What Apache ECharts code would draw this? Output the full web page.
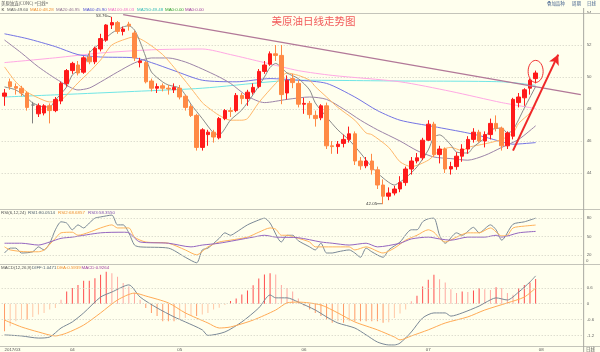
<!DOCTYPE html>
<html>
<head>
<meta charset="utf-8">
<title>美原油日线走势图</title>
<script src="https://cdn.jsdelivr.net/npm/echarts@6.0.0/dist/echarts.min.js"></script>
<style>
  html, body { margin: 0; padding: 0; background: #FFFFEE; }
  #chart { width: 600px; height: 352px; }
</style>
</head>
<body>
<div id="chart"></div>
<script>
// 美原油日线走势图 - K线 + 均线 + RSI + MACD

// K线数据 (每根一个交易日)
const openPrices = [48.8, 49.7, 49.4, 49.3, 49.0, 48.25, 47.7, 47.75, 48.2, 47.9,
  48.5, 49.6, 50.4, 50.75, 50.3, 51.25, 50.95, 51.75, 52.3, 53.25,
  53.4, 52.85, 53.3, 52.75, 50.9, 50.9, 49.75, 49.3, 49.45, 49.3,
  49.2, 49.3, 48.8, 48.15, 47.6, 45.6, 46.4, 46.55, 46.2, 47.4,
  47.9, 47.9, 48.85, 48.65, 49.05, 49.4, 50.35, 50.8, 51.45, 51.35,
  49.0, 49.9, 49.6, 48.3, 48.35, 47.6, 47.45, 48.2, 45.7, 45.65,
  45.85, 46.1, 46.45, 44.75, 44.45, 44.75, 44.2, 43.25, 42.55, 42.75,
  43.0, 43.4, 44.25, 44.75, 44.95, 46.05, 47.05, 45.15, 45.5, 44.25,
  44.4, 45.05, 45.5, 46.1, 46.55, 46.0, 46.4, 47.1, 46.8, 45.7,
  46.3, 48.4, 48.7, 49.3, 49.9];
const closePrices = [49.0, 49.4, 49.3, 49.0, 48.1, 48.25, 48.2, 48.2, 47.9, 48.6,
  49.6, 50.4, 50.85, 50.25, 51.2, 50.95, 51.8, 52.4, 53.25, 53.4,
  52.85, 53.0, 53.2, 51.2, 51.0, 49.7, 49.3, 49.4, 49.3, 49.25,
  49.35, 48.75, 48.1, 47.6, 45.6, 46.7, 46.55, 46.25, 47.4, 47.9,
  47.85, 48.85, 48.65, 49.05, 49.35, 50.35, 50.75, 51.45, 51.35, 48.9,
  49.8, 49.65, 48.3, 48.35, 47.65, 47.4, 48.2, 45.7, 45.65, 45.8,
  46.1, 46.45, 44.75, 44.45, 44.75, 44.2, 43.25, 42.55, 42.75, 43.0,
  43.4, 44.25, 44.75, 44.95, 46.05, 47.05, 45.15, 45.5, 44.25, 44.4,
  45.05, 45.5, 46.1, 46.55, 46.0, 46.4, 47.1, 46.8, 45.7, 46.5,
  48.6, 48.75, 49.2, 49.8, 50.25];
const lowPrices = [48.2, 49.2, 48.9, 48.8, 47.9, 47.1, 47.5, 47.6, 47.1, 47.8,
  48.3, 49.4, 50.2, 50.1, 50.2, 50.8, 50.8, 51.6, 52.2, 53.0,
  52.7, 52.6, 52.9, 51.0, 50.6, 49.6, 49.1, 49.0, 49.1, 48.9,
  49.0, 48.6, 47.9, 47.5, 45.4, 45.4, 45.7, 45.9, 46.1, 47.3,
  47.5, 47.8, 48.3, 48.2, 48.9, 49.3, 50.2, 50.7, 51.0, 48.3,
  48.6, 49.3, 48.1, 47.7, 47.4, 46.9, 47.3, 45.5, 45.2, 45.2,
  45.6, 45.9, 44.5, 44.2, 44.3, 43.9, 43.0, 42.05, 42.3, 42.6,
  42.8, 43.2, 43.9, 44.6, 44.8, 46.0, 45.0, 44.6, 44.0, 43.9,
  44.2, 44.7, 45.2, 45.9, 45.9, 45.6, 46.1, 46.6, 45.4, 45.5,
  46.1, 48.1, 48.2, 48.9, 49.6];
const highPrices = [49.25, 49.9, 49.6, 49.45, 49.1, 48.45, 48.35, 48.3, 48.35, 48.75,
  49.7, 50.5, 50.95, 51.0, 51.3, 51.65, 51.9, 52.7, 53.3, 53.76,
  53.5, 53.15, 53.45, 52.9, 51.2, 51.0, 49.9, 49.6, 49.6, 49.5,
  49.6, 49.5, 48.9, 48.3, 47.7, 46.8, 46.7, 46.7, 47.5, 48.0,
  48.1, 49.0, 49.0, 49.2, 49.6, 50.5, 51.0, 51.6, 52.0, 52.0,
  50.1, 50.2, 49.8, 48.7, 48.5, 47.9, 48.3, 48.4, 46.0, 46.0,
  46.4, 46.9, 46.6, 45.0, 45.0, 45.2, 44.4, 43.6, 43.1, 43.2,
  43.8, 44.4, 45.0, 45.25, 46.2, 47.3, 47.2, 45.7, 45.6, 44.7,
  45.3, 45.8, 46.3, 46.8, 46.7, 46.6, 47.4, 47.6, 46.9, 46.6,
  48.7, 49.0, 49.3, 49.9, 50.4];

// 均线 (读图取点: [K线序号, 数值])
const ma5Points = [[0, 49.38], [2, 49.19], [4, 48.69], [5, 48.38], [7, 48.13], [8, 48.13], [9, 48.56], [11, 49.38],
  [12, 50.13], [14, 50.63], [15, 51.5], [17, 52.13], [19, 52.75], [21, 53.13], [22, 53.2], [23, 52.94],
  [24, 52.19], [25, 51.25], [26, 50.31], [28, 49.69], [29, 49.5], [31, 49.31], [32, 48.88], [33, 48.3],
  [35, 47.4], [37, 46.5], [38, 46.4], [40, 47.31], [42, 47.94], [44, 48.9], [46, 50.0], [47, 50.6],
  [48, 50.85], [49, 50.6], [50, 50.25], [52, 49.9], [54, 49.19], [55, 48.38], [57, 47.5], [59, 46.69],
  [61, 46.06], [63, 45.25], [65, 44.38], [67, 43.69], [69, 43.25], [70, 43.44], [71, 43.69], [73, 44.38],
  [75, 45.44], [76, 46.25], [77, 46.38], [79, 45.75], [80, 45.31], [82, 45.25], [83, 45.63], [85, 46.19],
  [86, 46.69], [88, 46.81], [89, 46.5], [90, 46.69], [92, 48.06], [94, 49.4]];
const ma10Points = [[0, 50.63], [2, 49.69], [4, 49.06], [6, 48.69], [8, 48.44], [10, 48.56], [11, 48.88], [13, 49.63],
  [15, 50.31], [17, 51.06], [19, 52.0], [22, 52.44], [23, 52.5], [25, 52.19], [28, 51.4], [30, 50.6],
  [32, 49.75], [33, 49.3], [35, 48.4], [36, 48.1], [38, 47.6], [40, 47.3], [42, 47.3], [43, 47.4],
  [45, 48.4], [48, 49.6], [50, 50.25], [52, 50.1], [54, 49.8], [55, 49.4], [57, 48.75], [59, 48.1],
  [62, 47.3], [64, 46.5], [65, 46.4], [68, 45.6], [70, 44.7], [72, 44.4], [75, 44.8], [77, 45.4],
  [79, 45.6], [81, 45.4], [82, 45.6], [84, 45.75], [86, 45.9], [88, 46.1], [90, 46.5], [91, 47.1],
  [93, 47.75], [94, 48.28]];
const ma20Points = [[0, 52.31], [3, 51.5], [6, 50.63], [10, 49.69], [13, 49.19], [15, 49.31], [17, 49.69], [20, 50.31],
  [23, 50.88], [26, 51.19], [29, 51.19], [32, 50.94], [35, 50.5], [38, 50.0], [40, 49.6], [43, 48.8],
  [46, 48.4], [50, 48.6], [54, 48.75], [57, 48.6], [60, 48.0], [63, 47.3], [66, 46.7], [70, 46.0],
  [73, 45.4], [76, 45.0], [79, 44.9], [82, 44.8], [85, 45.1], [88, 45.6], [91, 46.1], [94, 46.95]];
const ma60Points = [[0, 52.7], [4, 52.4], [9, 51.9], [13, 51.4], [17, 51.25], [23, 51.2], [26, 50.9], [30, 50.4],
  [35, 49.8], [41, 49.7], [47, 49.9], [52, 49.8], [57, 49.6], [62, 48.75], [66, 47.9], [70, 47.3],
  [76, 46.9], [82, 46.5], [85, 46.25], [88, 45.95], [90, 45.8], [94, 45.9]];
const ma100Points = [[0, 50.9], [9, 51.2], [17, 51.5], [26, 51.7], [35, 51.75], [40, 51.4], [46, 50.9], [52, 50.4],
  [58, 50.1], [70, 49.7], [79, 49.1], [88, 48.4], [94, 48.03]];
const ma250Points = [[0, 48.75], [10, 48.9], [23, 49.1], [35, 49.3], [47, 49.7], [52, 49.8], [70, 49.75], [88, 49.7],
  [94, 49.48]];
const trendLine = [[21, 53.9], [102, 48.9]];
const arrowLine = [[90, 45.4], [98, 51.4]];

// RSI(6,12,24)
const rsi1Points = [[0, 23], [1, 31], [2, 31], [3, 23], [5, 25], [6, 33], [7, 28], [8, 39], [9, 61], [10, 74],
  [11, 72], [12, 61], [13, 69], [14, 64], [15, 72], [16, 80], [17, 82], [19, 85], [20, 69], [21, 69],
  [22, 56], [23, 36], [24, 33], [29, 31], [32, 16], [34, 7], [35, 28], [36, 31], [38, 47], [39, 56],
  [40, 52], [41, 57], [43, 69], [45, 77], [46, 80], [47, 72], [49, 41], [50, 52], [51, 52], [52, 43],
  [54, 33], [55, 28], [56, 39], [57, 23], [58, 23], [59, 25], [61, 28], [62, 23], [63, 16], [64, 31],
  [65, 25], [67, 16], [68, 28], [70, 41], [72, 61], [73, 61], [74, 74], [75, 79], [76, 80], [77, 52],
  [78, 39], [80, 56], [81, 52], [83, 65], [84, 56], [86, 69], [87, 61], [88, 44], [90, 70], [92, 74],
  [94, 80.05]];
const rsi2Points = [[0, 33], [1, 28], [4, 25], [6, 25], [7, 28], [9, 47], [10, 56], [12, 57], [13, 52], [15, 57],
  [17, 64], [19, 69], [20, 64], [22, 64], [23, 49], [25, 41], [29, 39], [32, 28], [34, 20], [36, 33],
  [38, 41], [40, 44], [43, 49], [45, 57], [47, 64], [48, 62], [49, 52], [50, 52], [52, 47], [54, 41],
  [55, 33], [58, 33], [61, 33], [62, 28], [64, 33], [67, 23], [69, 31], [71, 44], [73, 52], [75, 61],
  [76, 57], [77, 47], [78, 41], [80, 49], [82, 56], [84, 56], [86, 64], [88, 51], [89, 52], [90, 64],
  [92, 67], [94, 68.69]];
const rsi3Points = [[0, 39], [3, 39], [6, 36], [8, 41], [10, 47], [12, 49], [17, 56], [21, 57], [22, 56], [24, 41],
  [29, 39], [33, 33], [35, 36], [38, 39], [44, 49], [46, 52], [48, 49], [52, 48], [56, 41], [58, 39],
  [61, 36], [64, 39], [66, 33], [70, 39], [72, 46], [75, 49], [77, 46], [79, 44], [82, 49], [85, 49],
  [87, 52], [88, 49], [91, 56], [94, 58.36]];

// MACD(12,26,9)
const macdBars = [-1.04, -0.85, -0.66, -0.6, -0.6, -0.5, -0.41, -0.35, -0.22, -0.16,
  0.15, 0.46, 0.59, 0.71, 0.87, 0.87, 0.96, 1.09, 1.21, 1.15,
  1.02, 0.78, 0.65, 0.4, 0.15, -0.16, -0.35, -0.47, -0.66, -0.66,
  -0.66, -0.6, -0.54, -0.47, -0.47, -0.41, -0.35, -0.22, -0.15, -0.05,
  0.1, 0.2, 0.35, 0.5, 0.7, 0.95, 1.1, 1.15, 1.1, 0.71,
  0.59, 0.46, 0.2, -0.1, -0.22, -0.35, -0.47, -0.6, -0.72, -0.66,
  -0.72, -0.66, -0.66, -0.66, -0.66, -0.66, -0.66, -0.72, -0.7, -0.54,
  -0.37, -0.22, 0.09, 0.3, 0.65, 0.9, 1.09, 0.92, 0.8, 0.55,
  0.4, 0.46, 0.44, 0.5, 0.59, 0.55, 0.52, 0.62, 0.59, 0.4,
  0.34, 0.59, 0.71, 0.8, 0.93];
const diffPoints = [[0, -1.18], [3, -1.22], [6, -1.3], [8, -1.26], [10, -0.92], [12, -0.69], [14, -0.35], [17, 0.25],
  [19, 0.44], [22, 0.71], [24, 0.25], [27, -0.16], [30, -0.5], [32, -0.69], [35, -0.99], [36, -1.2],
  [39, -1.07], [42, -0.69], [45, -0.16], [47, 0.33], [48, 0.22], [50, 0.22], [52, 0.06], [55, -0.24],
  [57, -0.5], [59, -0.73], [62, -0.92], [64, -1.18], [66, -1.45], [68, -1.56], [69, -1.56], [70, -1.49],
  [72, -1.07], [74, -0.54], [76, -0.35], [78, -0.35], [79, -0.47], [81, -0.35], [84, -0.09], [85, 0.03],
  [87, 0.22], [89, 0.14], [91, 0.44], [93, 0.82], [94, 1.05]];
const deaPoints = [[0, -0.62], [3, -0.88], [6, -1.07], [9, -1.22], [11, -1.11], [14, -0.81], [17, -0.35], [20, 0.14],
  [23, 0.4], [25, 0.29], [29, 0.03], [32, -0.35], [36, -0.73], [38, -0.92], [40, -0.88], [44, -0.62],
  [48, -0.24], [50, 0.03], [52, 0.06], [56, -0.05], [59, -0.35], [62, -0.69], [66, -0.99], [69, -1.26],
  [70, -1.37], [72, -1.22], [75, -0.99], [78, -0.73], [82, -0.5], [85, -0.24], [89, 0.03], [92, 0.25],
  [94, 0.59]];

// 横轴月份刻度
const monthTicks = [0, 12, 31, 53, 75, 95];
const monthLabels = ['2017/03', '04', '05', '06', '07', '08'];

// 图例文字
const maLegend = [
  ['K', '#333333'], ['MA5:49.60', '#606060'], ['MA10:48.28', '#F09030'], ['MA20:46.95', '#907090'],
  ['MA60:45.90', '#5050D0'], ['MA100:48.03', '#F070C8'], ['MA250:49.48', '#30B8B8'],
  ['MA0:0.00', '#30A030'], ['MA0:0.00', '#A040A0']
];
const rsiLegend = [['RSI(6,12,24)', '#555555'], ['RSI1:80.0514', '#506070'], ['RSI2:68.6857', '#F09030'], ['RSI3:58.3550', '#8050B0']];
const macdLegend = [['MACD(12,26,9)', '#555555'], ['DIFF:1.0471', '#506070'], ['DEA:0.5939', '#F09030'], ['MACD:0.9264', '#A040A0']];

const SLOT_COUNT = 103;
const slots = Array.from({ length: SLOT_COUNT }, (_, i) => i);
const GRID_LEFT = 1.7;
const GRID_RIGHT = 16.35;
const SMALL_FONT = '"Liberation Sans", Arial, sans-serif';
const CJK_FONT = '"Noto Sans CJK SC", sans-serif';
const TINY = 4.4;

const chart = echarts.init(document.getElementById('chart'));

function xAxisFor(gridIndex, showLabels) {
    return {
        type: 'category',
        gridIndex: gridIndex,
        data: slots,
        boundaryGap: true,
        axisLine: { show: false },
        axisTick: { show: false },
        splitLine: { show: false },
        axisLabel: showLabels ? {
            interval: (idx) => monthTicks.indexOf(idx) >= 0,
            formatter: (val, idx) => monthLabels[monthTicks.indexOf(idx)],
            fontSize: TINY,
            fontFamily: SMALL_FONT,
            color: '#555555',
            margin: 2,
            alignMinLabel: 'left'
        } : { show: false }
    };
}

function lineSeries(name, points, color, axis, width) {
    return {
        name: name,
        type: 'line',
        xAxisIndex: axis,
        yAxisIndex: axis,
        data: points,
        showSymbol: false,
        smooth: 0.25,
        silent: true,
        lineStyle: { color: color, width: width || 1 },
        z: 3
    };
}

function guideLines(values, labels) {
    return {
        silent: true,
        symbol: 'none',
        lineStyle: { color: '#CFCFC2', type: [1, 2], width: 1 },
        label: {
            position: 'end',
            distance: 3,
            fontSize: TINY,
            fontFamily: SMALL_FONT,
            color: '#666666',
            formatter: (p) => labels[values.indexOf(p.value)]
        },
        data: values.map(v => ({ yAxis: v }))
    };
}

// 十字星 (开盘=收盘) 画成灰色
const candleData = openPrices.map((o, i) => {
    const item = { value: [o, closePrices[i], lowPrices[i], highPrices[i]] };
    if (o === closePrices[i]) {
        item.itemStyle = { color: '#808080', color0: '#808080', borderColor: '#808080', borderColor0: '#808080' };
    }
    return item;
});

// MACD 柱颜色: 放大为实色, 缩小为浅色
const macdBarData = macdBars.map((v, i) => {
    const prev = i > 0 ? macdBars[i - 1] : v;
    const growing = Math.abs(v) >= Math.abs(prev);
    let color;
    if (v >= 0) color = growing ? '#FF4D4D' : '#FFA8A0';
    else color = growing ? '#FF9A66' : '#FFC8A6';
    return { value: v, itemStyle: { color: color } };
});

const option = {
    animation: false,
    backgroundColor: '#FFFFEE',
    grid: [
        { left: GRID_LEFT, right: GRID_RIGHT, top: 13, height: 192, outerBoundsMode: 'none' },
        { left: GRID_LEFT, right: GRID_RIGHT, top: 209, height: 55, outerBoundsMode: 'none' },
        { left: GRID_LEFT, right: GRID_RIGHT, top: 264, height: 82, outerBoundsMode: 'none' }
    ],
    xAxis: [xAxisFor(0, false), xAxisFor(1, false), xAxisFor(2, true)],
    yAxis: [
        {
            gridIndex: 0, type: 'value', position: 'right', min: 42, max: 54, interval: 2,
            axisLine: { show: false }, axisTick: { show: false },
            axisLabel: { fontSize: TINY, fontFamily: SMALL_FONT, color: '#666666', margin: 3, showMinLabel: false },
            splitLine: { showMinLine: false, lineStyle: { color: '#CFCFC2', type: [1, 2], width: 1 } }
        },
        {
            gridIndex: 1, type: 'value', position: 'right', min: 5, max: 95,
            axisLine: { show: false }, axisTick: { show: false }, axisLabel: { show: false }, splitLine: { show: false }
        },
        {
            gridIndex: 2, type: 'value', position: 'right', min: -1.6, max: 1.5,
            axisLine: { show: false }, axisTick: { show: false }, axisLabel: { show: false }, splitLine: { show: false }
        }
    ],
    series: [
        {
            name: 'K',
            type: 'candlestick',
            xAxisIndex: 0,
            yAxisIndex: 0,
            barWidth: 4,
            data: candleData,
            itemStyle: {
                color: '#FF1A1A',
                color0: '#FF8A45',
                borderColor: '#FF1A1A',
                borderColor0: '#FF8A45',
                borderWidth: 1
            },
            z: 4,
            markLine: {
                silent: true,
                symbol: 'none',
                lineStyle: { color: '#B27898', width: 1.2, type: 'solid' },
                label: { show: false },
                data: [[{ coord: trendLine[0] }, { coord: trendLine[1] }]]
            }
        },
        lineSeries('MA250', ma250Points, '#70E6E6', 0),
        lineSeries('MA100', ma100Points, '#FFA8E4', 0),
        lineSeries('MA60', ma60Points, '#7474E4', 0),
        lineSeries('MA20', ma20Points, '#9C84A8', 0),
        lineSeries('MA10', ma10Points, '#FFB86A', 0),
        lineSeries('MA5', ma5Points, '#8A8A8A', 0),
        {
            name: 'arrow',
            type: 'line',
            xAxisIndex: 0,
            yAxisIndex: 0,
            data: [],
            silent: true,
            markLine: {
                silent: true,
                symbol: ['none', 'arrow'],
                symbolSize: [8, 10],
                lineStyle: { color: '#F02828', width: 2, type: 'solid' },
                label: { show: false },
                data: [[{ coord: arrowLine[0] }, { coord: arrowLine[1] }]]
            },
            z: 6
        },
        Object.assign(lineSeries('RSI1', rsi1Points, '#7A8896', 1, 1), {
            markLine: guideLines([80, 50, 20], ['80', '50', '20'])
        }),
        lineSeries('RSI2', rsi2Points, '#FFB25A', 1),
        lineSeries('RSI3', rsi3Points, '#9466C0', 1),
        {
            name: 'MACD',
            type: 'bar',
            xAxisIndex: 2,
            yAxisIndex: 2,
            barWidth: 1,
            data: macdBarData,
            silent: true,
            markLine: guideLines([0.6, 0, -0.6, -1.2], ['0.6', '0', '-0.6', '-1.2'])
        },
        lineSeries('DIFF', diffPoints, '#7A8896', 2),
        lineSeries('DEA', deaPoints, '#FFAA55', 2)
    ]
};

chart.setOption(option);

// 文字与标注
function textEl(text, x, y, color, size, align, font) {
    return {
        type: 'text',
        silent: true,
        z: 20,
        style: {
            text: text, x: x, y: y,
            fill: color,
            fontSize: size,
            fontFamily: font || SMALL_FONT,
            align: align || 'left', textAlign: align || 'left',
            verticalAlign: 'middle', textVerticalAlign: 'middle'
        }
    };
}
function lineEl(x1, y1, x2, y2, color, width) {
    return {
        type: 'line', silent: true, z: 1,
        shape: { x1: x1, y1: y1, x2: x2, y2: y2 },
        style: { stroke: color, lineWidth: width || 1 }
    };
}

const graphics = [];
// 分隔线
const plotRight = 600 - GRID_RIGHT;
[13.5, 209.5, 264.5, 346.5].forEach(y => graphics.push(lineEl(0, y, 600, y, '#C4C4BA')));
graphics.push(lineEl(plotRight, 8, plotRight, 352, '#A8A8A0'));

// 顶部标题栏
graphics.push(textEl('美原油连(CONC) <日线>', 1, 3, '#555555', TINY, 'left', CJK_FONT));
graphics.push(textEl('叠加品种', 547, 3, '#3A5A8A', TINY, 'left', CJK_FONT));
graphics.push(textEl('周期', 572, 3, '#3A5A8A', TINY, 'left', CJK_FONT));
graphics.push(textEl('日线', 587, 3, '#3A5A8A', TINY, 'left', CJK_FONT));

// 图例
const maX = [1.5, 7, 30, 56, 83, 108, 137, 165, 185];
maLegend.forEach((item, i) => graphics.push(textEl(item[0], maX[i], 9.5, item[1], TINY)));
const rsiX = [1, 28, 58, 88];
rsiLegend.forEach((item, i) => graphics.push(textEl(item[0], rsiX[i], 213, item[1], TINY)));
const macdX = [1, 32, 57, 81.5];
macdLegend.forEach((item, i) => graphics.push(textEl(item[0], macdX[i], 267.5, item[1], TINY)));

// 主标题
graphics.push(textEl('美原油日线走势图', 313.5, 21.5, '#F25A5A', 10.5, 'center', CJK_FONT));

// 右下角
graphics.push(textEl('0', 586, 261, '#666666', TINY));
graphics.push(textEl('日线', 586, 349.5, '#555555', TINY, 'left', CJK_FONT));

// 最高/最低价标注
const hiIdx = highPrices.indexOf(Math.max(...highPrices));
const loIdx = lowPrices.indexOf(Math.min(...lowPrices));
const hiPt = chart.convertToPixel({ gridIndex: 0 }, [hiIdx, highPrices[hiIdx]]);
const loPt = chart.convertToPixel({ gridIndex: 0 }, [loIdx, lowPrices[loIdx]]);
graphics.push(textEl(highPrices[hiIdx].toFixed(2), hiPt[0] - 5, hiPt[1] - 1.5, '#333333', TINY, 'right'));
graphics.push(lineEl(hiPt[0] - 5, hiPt[1] - 1, hiPt[0] - 1, hiPt[1], '#333333', 0.6));
graphics.push(textEl(lowPrices[loIdx].toFixed(2), loPt[0] - 6, loPt[1] - 0.5, '#333333', TINY, 'right'));
graphics.push(lineEl(loPt[0] - 6, loPt[1] - 0.5, loPt[0] - 1, loPt[1] - 0.5, '#333333', 0.6));

// 红圈
const lastIdx = closePrices.length - 1;
const circlePt = chart.convertToPixel({ gridIndex: 0 }, [lastIdx, (highPrices[lastIdx] + lowPrices[lastIdx]) / 2 + 0.35]);
graphics.push({
    type: 'ellipse', silent: true, z: 20,
    shape: { cx: circlePt[0], cy: circlePt[1], rx: 7.5, ry: 11 },
    style: { fill: 'none', stroke: '#F03030', lineWidth: 1 }
});

chart.setOption({ graphic: graphics });

window.addEventListener('resize', function () {
    chart.resize();
});
</script>
</body>
</html>
